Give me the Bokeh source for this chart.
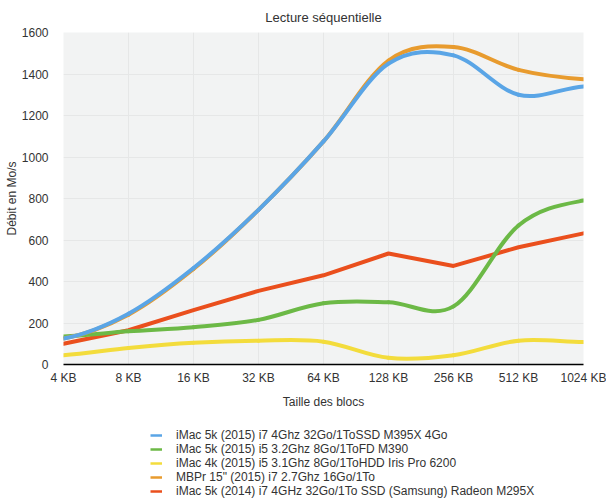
from bokeh.plotting import figure
from bokeh.models import Legend, LegendItem, FixedTicker, Range1d
from bokeh.layouts import column
from bokeh.embed import file_html
from bokeh.resources import INLINE

# ---- data ----
categories = ["4 KB", "8 KB", "16 KB", "32 KB", "64 KB", "128 KB", "256 KB", "512 KB", "1024 KB"]
imac5k_2015_i7 = [125, 245, 465, 745, 1075, 1450, 1490, 1300, 1340]
imac5k_2015_i5 = [135, 160, 180, 215, 295, 300, 280, 670, 790]
imac4k_2015_i5 = [45, 80, 105, 115, 110, 32, 45, 115, 108]
mbpr15_2015 = [125, 240, 460, 745, 1075, 1465, 1530, 1420, 1375]
imac5k_2014_i7 = [100, 165, 262, 355, 430, 535, 475, 565, 632]
series_names = [
    "iMac 5k (2015) i7 4Ghz 32Go/1ToSSD M395X 4Go",
    "iMac 5k (2015) i5 3.2Ghz 8Go/1ToFD M390",
    "iMac 4k (2015) i5 3.1Ghz 8Go/1ToHDD Iris Pro 6200",
    "MBPr 15\" (2015) i7 2.7Ghz 16Go/1To",
    "iMac 5k (2014) i7 4GHz 32Go/1To SSD (Samsung) Radeon M295X",
]
y_ticks = [0, 200, 400, 600, 800, 1000, 1200, 1400, 1600]

colors = ["#5aa5e6", "#6cb946", "#f3dc3c", "#e89b2e", "#ea4f1d"]
FONT = "Liberation Sans"
TXT = "#333333"

p = figure(width=606, height=411, output_backend="svg", toolbar_location=None,
           x_range=Range1d(0, len(categories) - 1), y_range=Range1d(0, 1600),
           min_border_left=63, min_border_right=23, min_border_top=31,
           min_border_bottom=45,
           background_fill_color="#f2f3f3", border_fill_color="white",
           outline_line_color=None)

p.title.text = "Lecture séquentielle"
p.title.align = "center"
p.title.text_font = FONT
p.title.text_font_size = "13px"
p.title.text_font_style = "normal"
p.title.text_color = TXT
p.title.standoff = 15

# axes
p.xaxis.ticker = FixedTicker(ticks=list(range(len(categories))))
p.xaxis.major_label_overrides = {i: c for i, c in enumerate(categories)}
p.yaxis.ticker = FixedTicker(ticks=y_ticks)
for ax in (p.xaxis[0], p.yaxis[0]):
    ax.major_tick_line_color = None
    ax.minor_tick_line_color = None
    ax.major_label_text_font = FONT
    ax.major_label_text_font_size = "12px"
    ax.major_label_text_color = TXT
    ax.axis_label_text_font = FONT
    ax.axis_label_text_font_size = "12px"
    ax.axis_label_text_font_style = "normal"
    ax.axis_label_text_color = TXT
p.xaxis.axis_line_color = "black"
p.xaxis.axis_line_width = 1.5
p.yaxis.axis_line_color = None
p.xaxis.axis_label = "Taille des blocs"
p.yaxis.axis_label = "Débit en Mo/s"
p.xaxis.major_label_standoff = 0
p.xaxis.axis_label_standoff = 7
p.yaxis.major_label_standoff = 9
p.yaxis.axis_label_standoff = 0

p.xgrid.grid_line_color = "#e6e7e7"
p.ygrid.grid_line_color = "#e6e7e7"


def smooth(fig, ys, color):
    n = len(ys)
    xs = list(range(n))
    ext = [ys[0]] + list(ys) + [ys[-1]]
    x0, y0, x1, y1, cx0, cy0, cx1, cy1 = [], [], [], [], [], [], [], []
    for i in range(n - 1):
        x0.append(xs[i]); y0.append(ys[i])
        x1.append(xs[i + 1]); y1.append(ys[i + 1])
        cx0.append(xs[i] + 1 / 3.0)
        cy0.append(ys[i] + (ext[i + 2] - ext[i]) / 6.0)
        cx1.append(xs[i + 1] - 1 / 3.0)
        cy1.append(ys[i + 1] - (ext[i + 3] - ext[i + 1]) / 6.0)
    fig.bezier(x0=x0, y0=y0, x1=x1, y1=y1, cx0=cx0, cy0=cy0, cx1=cx1, cy1=cy1,
               line_color=color, line_width=4, line_cap="round")


xs = list(range(len(categories)))
smooth(p, imac4k_2015_i5, colors[2])
p.line(xs, imac5k_2014_i7, line_color=colors[4], line_width=4, line_join="round", line_cap="round")
smooth(p, imac5k_2015_i5, colors[1])
smooth(p, mbpr15_2015, colors[3])
smooth(p, imac5k_2015_i7, colors[0])

# ---- legend figure ----
pl = figure(width=606, height=87, output_backend="svg", toolbar_location=None,
            x_range=Range1d(0, 1), y_range=Range1d(0, 1),
            x_axis_location=None, y_axis_location=None,
            min_border=0, outline_line_color=None, border_fill_color="white",
            background_fill_color="white")
pl.grid.visible = False

nan = float("nan")
items = []
for name, col in zip(series_names, colors):
    r = pl.line(x=[nan], y=[nan], line_color=col, line_width=2.5)
    items.append(LegendItem(label=name, renderers=[r]))

legend = Legend(items=items, location=(87, 0), orientation="vertical",
                label_text_font=FONT, label_text_font_size="12px", label_text_color=TXT,
                glyph_width=12, glyph_height=14, label_height=14, label_standoff=14,
                spacing=0, padding=0, margin=0,
                border_line_color=None, background_fill_alpha=0)
pl.add_layout(legend, "center")

layout = column(p, pl, spacing=0)
open("out.html", "w").write(file_html(layout, INLINE))
